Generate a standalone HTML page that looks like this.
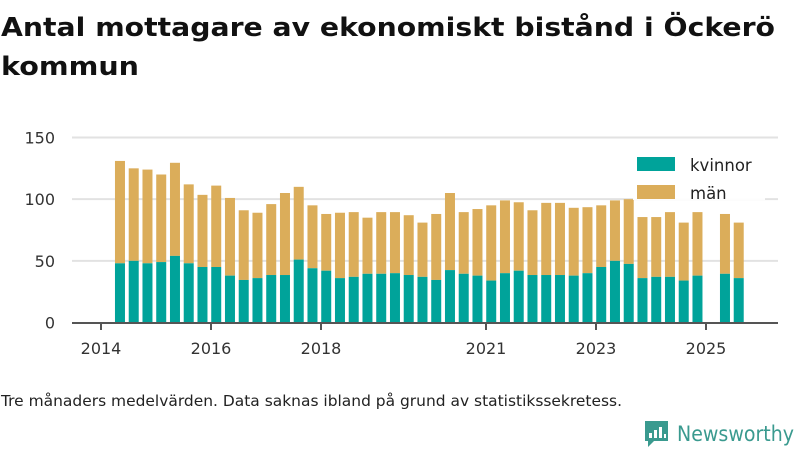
<!DOCTYPE html>
<html><head><meta charset="utf-8">
<style>
body{margin:0;background:#fff;width:800px;height:450px;overflow:hidden;font-family:"DejaVu Sans","Liberation Sans",sans-serif;}
svg text{font-family:"DejaVu Sans","Liberation Sans",sans-serif;}
</style></head>
<body>
<svg id="chart" width="800" height="450" viewBox="0 0 800 450" xmlns="http://www.w3.org/2000/svg">
<text x="1" y="36" font-size="26" font-weight="bold" fill="#111" textLength="774" lengthAdjust="spacingAndGlyphs">Antal mottagare av ekonomiskt bistånd i Öckerö</text>
<text x="1" y="75" font-size="26" font-weight="bold" fill="#111" textLength="138" lengthAdjust="spacingAndGlyphs">kommun</text>
<g id="grid"></g>
<g id="bars"></g>
<g id="axes"></g>
<g>
<rect x="633" y="148" width="132" height="52" fill="#fff" fill-opacity="0.92"/>
<rect x="637" y="157" width="38" height="14" fill="#00a39a"/>
<text x="690" y="171" font-size="16.5" fill="#222">kvinnor</text>
<rect x="637" y="185" width="38" height="14" fill="#dbad5a"/>
<text x="690" y="199" font-size="16.5" fill="#222">män</text>
</g>
<text x="1" y="406" font-size="15" fill="#222" textLength="621" lengthAdjust="spacingAndGlyphs">Tre månaders medelvärden. Data saknas ibland på grund av statistikssekretess.</text>
<g>
<path d="M645 421 h23 v20 h-14 l-6 6 v-6 h-3 z" fill="#3a9a8f"/>
<rect x="649" y="433" width="3" height="5" fill="#fff"/>
<rect x="654" y="430" width="3" height="8" fill="#fff"/>
<rect x="659" y="427" width="3" height="11" fill="#fff"/>
<rect x="664" y="434" width="2" height="4" fill="#fff"/>
<text x="677" y="441" font-size="21" fill="#3a9a8f" textLength="117" lengthAdjust="spacingAndGlyphs">Newsworthy</text>
</g>
</svg>
<script>
const kvinnor = [48,50,48,49,54,48,45,45,38,34.5,36,38.5,38.5,51,44,42,36,37,39.5,39.5,40,38.5,37,34.5,42.5,39.5,38,34,40,42,38.5,38.5,38.5,38,40,45,50,47.5,36,37,37,34,38,null,39.5,36];
const totals = [131,125,124,120,129.5,112,103.5,111,101,91,89,96,105,110,95,88,89,89.5,85,89.5,89.5,87,81,88,105,89.5,92,95,99,97.5,91,97,97,93,93.5,95,99,100,85.5,85.5,89.5,81,89.5,null,88,81];
const yTicks = [0,50,100,150];
const xTickYears = [2014,2016,2018,2021,2023,2025];
const startYear = 2014.345;

const NS="http://www.w3.org/2000/svg";
const y = v => 322.5 - v*1.2333;
const x = yr => 101 + (yr-2014)*55;
const grid=document.getElementById('grid'), bars=document.getElementById('bars'), axes=document.getElementById('axes');
function mk(tag, attrs, parent){const e=document.createElementNS(NS,tag);for(const k in attrs)e.setAttribute(k,attrs[k]);parent.appendChild(e);return e;}
yTicks.forEach(v=>{
  if(v>0){const l=mk('line',{x1:72,x2:778,y1:y(v),y2:y(v),stroke:'#e2e2e2','stroke-width':2},grid);
  
  }
  const t=mk('text',{x:55,y:y(v)+6,'font-size':16,fill:'#333','text-anchor':'end'},axes);
  t.textContent=v;
  
  
});
const bw=10;
kvinnor.forEach((k,i)=>{
  if(k===null||totals[i]===null)return;
  const cx=x(startYear+i*0.25);
  const m=mk('rect',{x:cx-bw/2,y:y(totals[i]),width:bw,height:y(k)-y(totals[i]),fill:'#dbad5a'},bars);
  
  
  const r=mk('rect',{x:cx-bw/2,y:y(k),width:bw,height:y(0)-y(k),fill:'#00a39a'},bars);
  
  
});
const ax=mk('line',{x1:72,x2:778,y1:323,y2:323,stroke:'#555','stroke-width':2},axes);


xTickYears.forEach(yr=>{
  const tk=mk('line',{x1:x(yr),x2:x(yr),y1:323,y2:330,stroke:'#555','stroke-width':2},axes);
  
  
  const t=mk('text',{x:x(yr),y:354,'font-size':16,fill:'#333','text-anchor':'middle'},axes);
  t.textContent=yr;
  
  
});
</script>
</body></html>
